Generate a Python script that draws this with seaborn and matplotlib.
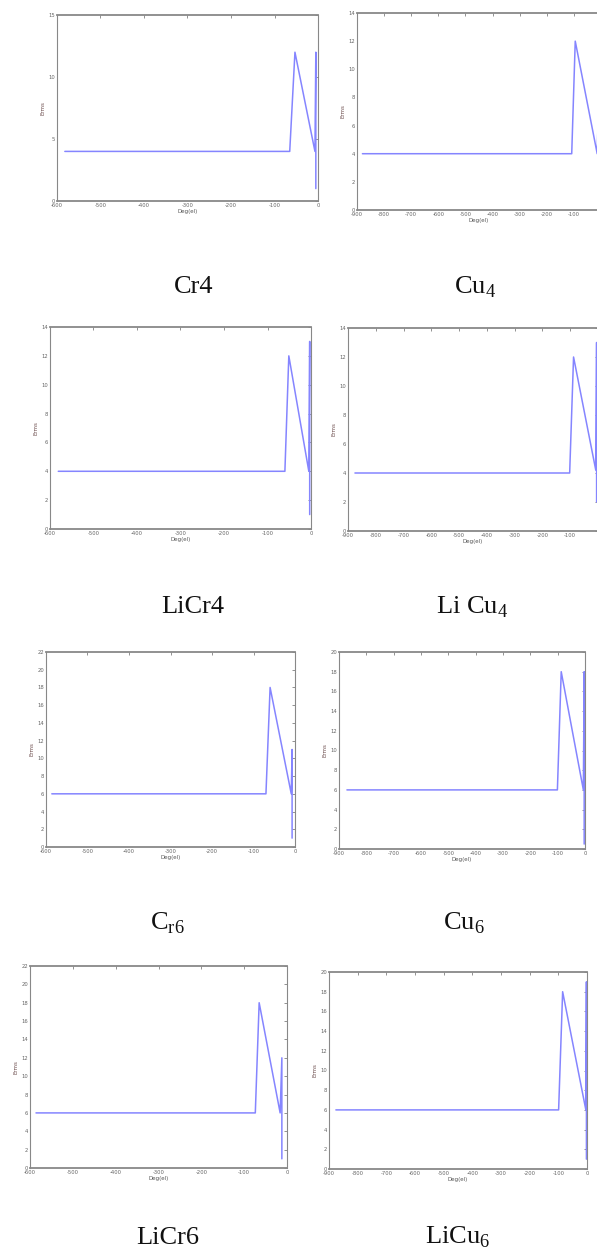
import matplotlib
matplotlib.use("Agg")
import matplotlib.pyplot as plt
import seaborn as sns

# curves (x = Deg(el), y = Erms)
cr4_x = [-582, -65, -53, -7, -5, -5]
cr4_y = [4, 4, 12, 4, 12, 1]
cu4_x = [-880, -108, -95, -14, -3, -3]
cu4_y = [4, 4, 12, 4, 12, 1]
licr4_x = [-581, -60, -51, -5, -3, -3]
licr4_y = [4, 4, 12, 4, 13, 1]
licu4_x = [-875, -102, -88, -8, -5, -5]
licu4_y = [4, 4, 12, 4.2, 13, 2]
cr6_x = [-586, -70, -60, -9, -7, -7]
cr6_y = [6, 6, 18, 6, 11, 1]
cu6_x = [-871, -101, -87, -6, -3, -3]
cu6_y = [6, 6, 18, 6, 18, 0.5]
licr6_x = [-586, -74, -65, -16, -12, -12]
licr6_y = [6, 6, 18, 6, 12, 1]
licu6_x = [-876, -99, -85, -4, -2, -2]
licu6_y = [6, 6, 18, 6, 19, 1]

captions = ["Cr4", "Cu$_\\mathregular{4}$", "LiCr4", "Li Cu$_\\mathregular{4}$",
            "C$_\\mathregular{r6}$", "Cu$_\\mathregular{6}$", "LiCr6", "LiCu$_\\mathregular{6}$"]
x_mins = [-600, -900, -600, -900, -600, -900, -600, -900]
y_maxs = [15, 14, 14, 14, 22, 20, 22, 20]
y_steps = [5, 2, 2, 2, 2, 2, 2, 2]

curves = [(cr4_x, cr4_y), (cu4_x, cu4_y), (licr4_x, licr4_y), (licu4_x, licu4_y),
          (cr6_x, cr6_y), (cu6_x, cu6_y), (licr6_x, licr6_y), (licu6_x, licu6_y)]

sns.set_style("white")
plt.rcParams['font.family'] = ['DejaVu Sans']
plt.rcParams['axes.unicode_minus'] = False

W, H = 597, 1252
fig = plt.figure(figsize=(W / 100, H / 100), dpi=100)

# axes boxes in pixels: left, top, right, bottom
boxes = [(57, 15, 318, 201), (357, 13, 601, 210),
         (50, 327, 311, 529), (348, 328, 598, 531),
         (46, 652, 295, 847), (339, 652, 585, 849),
         (30, 966, 287, 1168), (329, 972, 587, 1169)]
# caption centre x, baseline y
cap_pos = [(194, 293), (475, 293), (193, 613), (472, 613),
           (167, 930), (464, 930), (168, 1244), (458, 1244)]

for i, (xs, ys) in enumerate(curves):
    l, t, r, b = boxes[i]
    ax = fig.add_axes([l / W, 1 - b / H, (r - l) / W, (b - t) / H])
    sns.lineplot(x=xs, y=ys, ax=ax, sort=False, estimator=None,
                 color='#8585ff', lw=1.1)
    ax.set_xlim(x_mins[i], 0)
    ax.set_ylim(0, y_maxs[i])
    xt = list(range(x_mins[i], 1, 100))
    ax.set_xticks(xt)
    # the right edge of these two panels runs off the page, so no "0" label
    if r > 595:
        ax.set_xticklabels([str(v) for v in xt[:-1]] + [''])
    ax.set_yticks(range(0, y_maxs[i] + 1, y_steps[i]))
    ax.tick_params(direction='in', length=2.5, width=0.5, labelsize=3.8,
                   colors='#666666', top=True, right=True, pad=1.5)
    for side, sp in ax.spines.items():
        sp.set_visible(True)
        sp.set_color('#888888')
        sp.set_linewidth(1.3 if side in ('top', 'bottom') else 0.8)
    ax.set_xlabel('Deg(el)', fontsize=4, color='#555555', labelpad=1)
    ax.set_ylabel('Erms', fontsize=4, color='#6a4a4a', labelpad=2)
    cx, cy = cap_pos[i]
    fig.text(cx / W, 1 - cy / H, captions[i], ha='center', va='baseline',
             fontsize=19, family=['Liberation Serif'], color='#111111')

fig.savefig('out.png', dpi=100)
